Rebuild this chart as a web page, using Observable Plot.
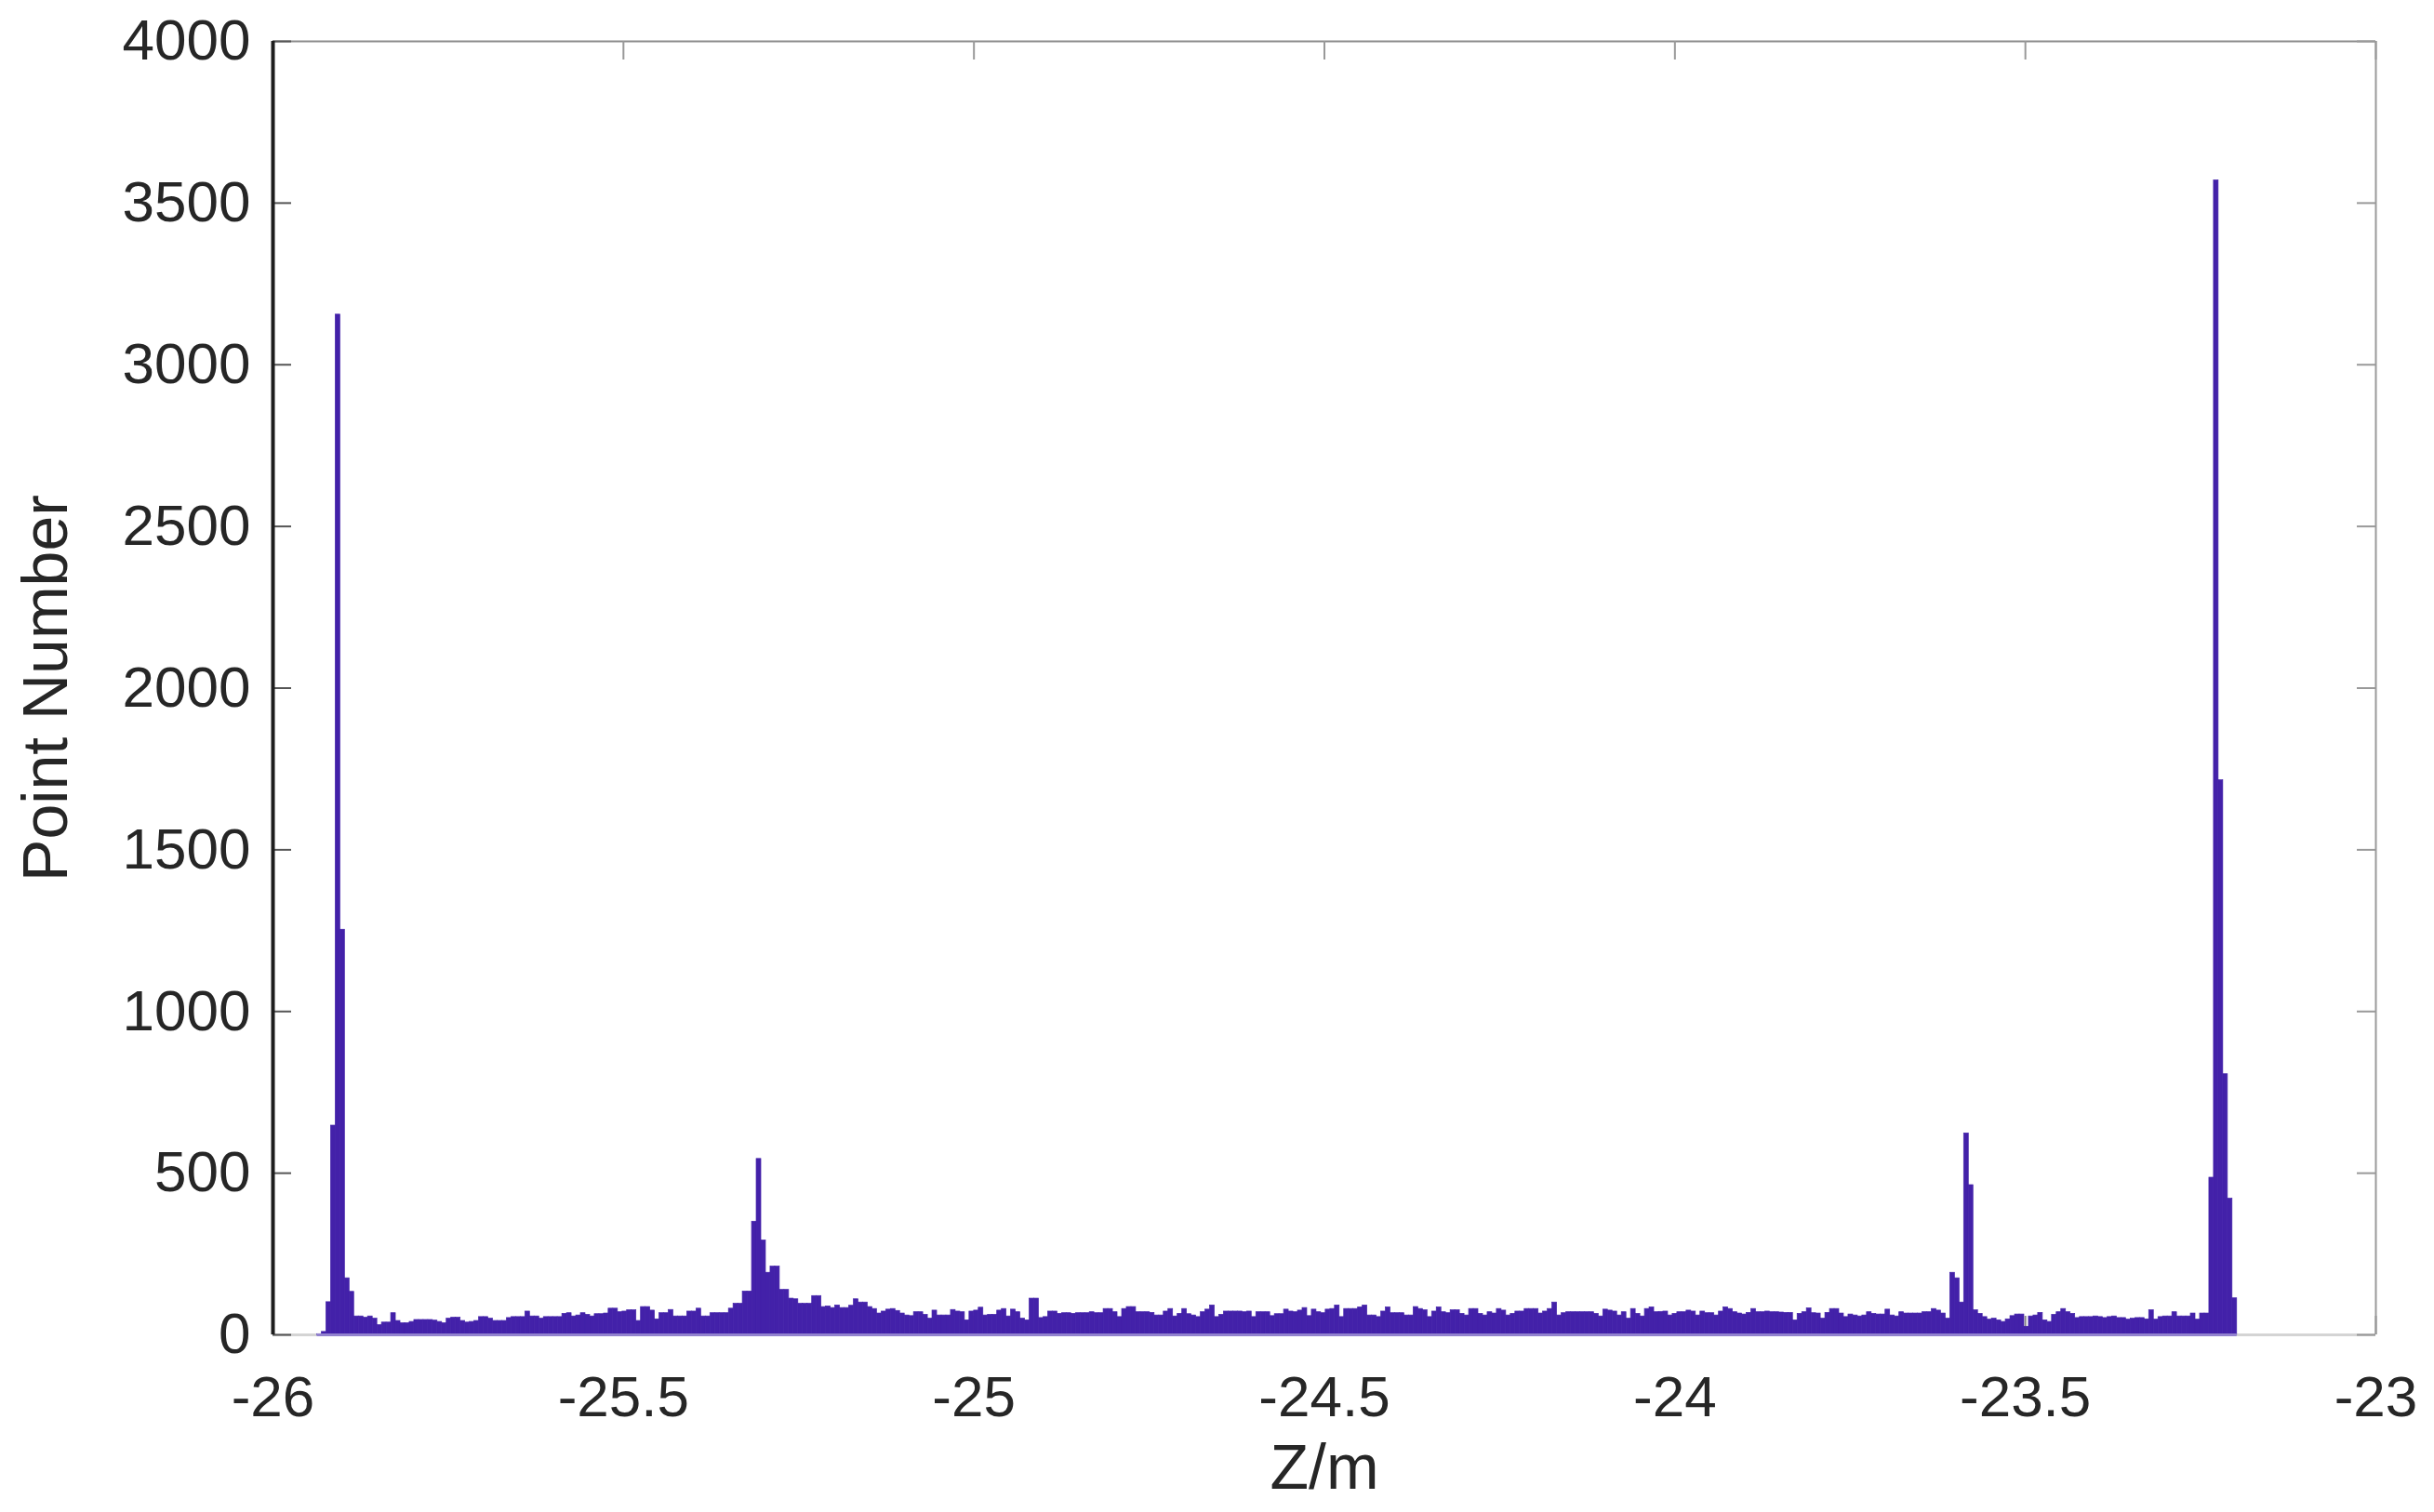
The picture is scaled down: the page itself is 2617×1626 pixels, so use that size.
<!DOCTYPE html>
<html>
<head>
<meta charset="utf-8">
<script src="https://cdn.jsdelivr.net/npm/d3@7"></script>
<script src="https://cdn.jsdelivr.net/npm/@observablehq/plot@0.6"></script>
<style>
  html, body { margin: 0; padding: 0; background: #ffffff; }
  #chart { width: 2617px; height: 1626px; }
</style>
</head>
<body>
<div id="chart"></div>
<script>
// Histogram of point elevations (Z/m) — bin layout
const binStart = -25.937;
const binWidth = 0.0066;

// Point counts per bin
const counts = [
  2, 9, 101, 647, 3155, 1253, 175, 133, 57, 57,
  53, 57, 50, 30, 38, 38, 67, 43, 36, 36,
  40, 46, 46, 46, 46, 44, 40, 36, 50, 53,
  53, 43, 38, 40, 43, 55, 55, 50, 43, 43,
  43, 52, 55, 55, 55, 72, 57, 57, 50, 55,
  55, 55, 55, 65, 67, 57, 60, 67, 62, 57,
  64, 64, 66, 81, 81, 70, 72, 76, 76, 43,
  86, 86, 75, 48, 67, 67, 77, 57, 57, 57,
  72, 72, 81, 57, 57, 67, 67, 67, 67, 81,
  96, 96, 134, 134, 350, 544, 292, 192, 211, 211,
  139, 139, 112, 110, 96, 96, 96, 120, 120, 86,
  88, 83, 91, 83, 83, 90, 110, 100, 100, 86,
  80, 66, 72, 78, 80, 74, 66, 60, 58, 70,
  70, 62, 50, 75, 60, 60, 60, 77, 72, 70,
  45, 72, 75, 84, 60, 62, 62, 75, 80, 57,
  78, 70, 50, 45, 112, 112, 52, 55, 72, 72,
  65, 67, 67, 65, 67, 67, 67, 70, 67, 67,
  80, 80, 70, 55, 80, 86, 86, 70, 70, 70,
  68, 60, 60, 72, 80, 57, 65, 80, 64, 60,
  55, 70, 78, 91, 55, 62, 72, 72, 72, 72,
  70, 72, 55, 70, 70, 70, 58, 64, 64, 78,
  72, 70, 75, 83, 58, 78, 70, 67, 78, 80,
  91, 55, 80, 80, 80, 85, 91, 60, 60, 55,
  72, 85, 67, 67, 67, 60, 60, 86, 80, 76,
  55, 72, 85, 70, 67, 76, 76, 65, 60, 80,
  80, 65, 60, 70, 66, 80, 75, 60, 65, 72,
  72, 80, 80, 80, 66, 72, 80, 100, 60, 67,
  70, 70, 70, 70, 70, 70, 65, 57, 78, 75,
  72, 60, 70, 50, 80, 65, 57, 80, 85, 70,
  71, 72, 60, 65, 70, 70, 75, 72, 60, 72,
  67, 67, 60, 72, 85, 80, 70, 66, 63, 68,
  80, 70, 70, 72, 70, 70, 69, 68, 68, 45,
  65, 70, 82, 67, 66, 50, 68, 80, 80, 66,
  55, 63, 60, 57, 60, 70, 65, 63, 63, 78,
  60, 57, 70, 66, 66, 66, 66, 70, 70, 80,
  75, 66, 50, 192, 175, 100, 623, 463, 76, 65,
  55, 47, 50, 45, 40, 48, 58, 63, 63, 25,
  57, 60, 68, 45, 40, 62, 70, 80, 70, 65,
  52, 55, 55, 55, 57, 55, 52, 55, 57, 52,
  52, 47, 50, 52, 52, 48, 76, 47, 55, 57,
  57, 70, 57, 57, 57, 66, 47, 66, 66, 486,
  3570, 1715, 806, 421, 113
];

// Axis ticks and labels
const xTicks = [-26, -25.5, -25, -24.5, -24, -23.5, -23];
const yTicks = [0, 500, 1000, 1500, 2000, 2500, 3000, 3500, 4000];
const xDomain = [-26, -23];
const yDomain = [0, 4000];
const xLabel = "Z/m";
const yLabel = "Point Number";

const bins = counts.map((c, i) => ({
  x1: binStart + i * binWidth,
  x2: binStart + (i + 1) * binWidth,
  y: c
}));
const histEnd = binStart + counts.length * binWidth;

const W = 2617, H = 1626;
const mL = 293, mR = 63, mT = 44, mB = 191;
const plotW = W - mL - mR, plotH = H - mT - mB;
const tickLen = 20;
const barColor = "#4321a9";
const textColor = "#262626";

const chart = Plot.plot({
  width: W,
  height: H,
  marginLeft: mL,
  marginRight: mR,
  marginTop: mT,
  marginBottom: mB,
  style: { fontFamily: "'Liberation Sans', Arial, Helvetica, sans-serif", background: "#ffffff", color: textColor },
  x: { domain: xDomain },
  y: { domain: yDomain },
  marks: [
    // bottom axis line (light) and bottom ticks
    Plot.ruleY([yDomain[0]], { stroke: "#d4d4d4", strokeWidth: 3 }),
    Plot.ruleX(xTicks, { stroke: "#888888", strokeWidth: 2, insetTop: plotH - tickLen }),
    // histogram bars
    Plot.rectY(bins, { x1: "x1", x2: "x2", y: "y", fill: barColor, stroke: barColor, strokeWidth: 0.7, inset: 0 }),
    Plot.ruleY([0], { x1: binStart, x2: histEnd, stroke: "#9282cf", strokeWidth: 3 }),
    // box: top and right (grey)
    Plot.ruleY([yDomain[1]], { stroke: "#8c8c8c", strokeWidth: 2 }),
    Plot.ruleX([xDomain[1]], { stroke: "#9a9a9a", strokeWidth: 2 }),
    // inward ticks
    Plot.ruleY(yTicks, { stroke: "#555555", strokeWidth: 2, insetRight: plotW - tickLen }),
    Plot.ruleY(yTicks, { stroke: "#999999", strokeWidth: 2, insetLeft: plotW - tickLen }),
    Plot.ruleX(xTicks, { stroke: "#999999", strokeWidth: 2, insetBottom: plotH - tickLen }),
    // left axis line (dark)
    Plot.ruleX([xDomain[0]], { stroke: "#1e1e1e", strokeWidth: 4 }),
    // tick labels
    Plot.axisY({ ticks: yTicks, tickSize: 0, tickPadding: 24, tickFormat: d => String(d), fontSize: 62, label: null, fill: textColor }),
    Plot.axisX({ ticks: xTicks, tickSize: 0, tickPadding: 43, tickFormat: d => String(d), fontSize: 62, label: null, fill: textColor }),
    // axis titles
    Plot.text([yLabel], { frameAnchor: "left", dx: -243, rotate: -90, fontSize: 68, fill: textColor, textAnchor: "middle", lineAnchor: "middle" }),
    Plot.text([xLabel], { frameAnchor: "bottom", dy: 117, fontSize: 68, fill: textColor, textAnchor: "middle", lineAnchor: "top" })
  ]
});

document.getElementById("chart").append(chart);
</script>
</body>
</html>
